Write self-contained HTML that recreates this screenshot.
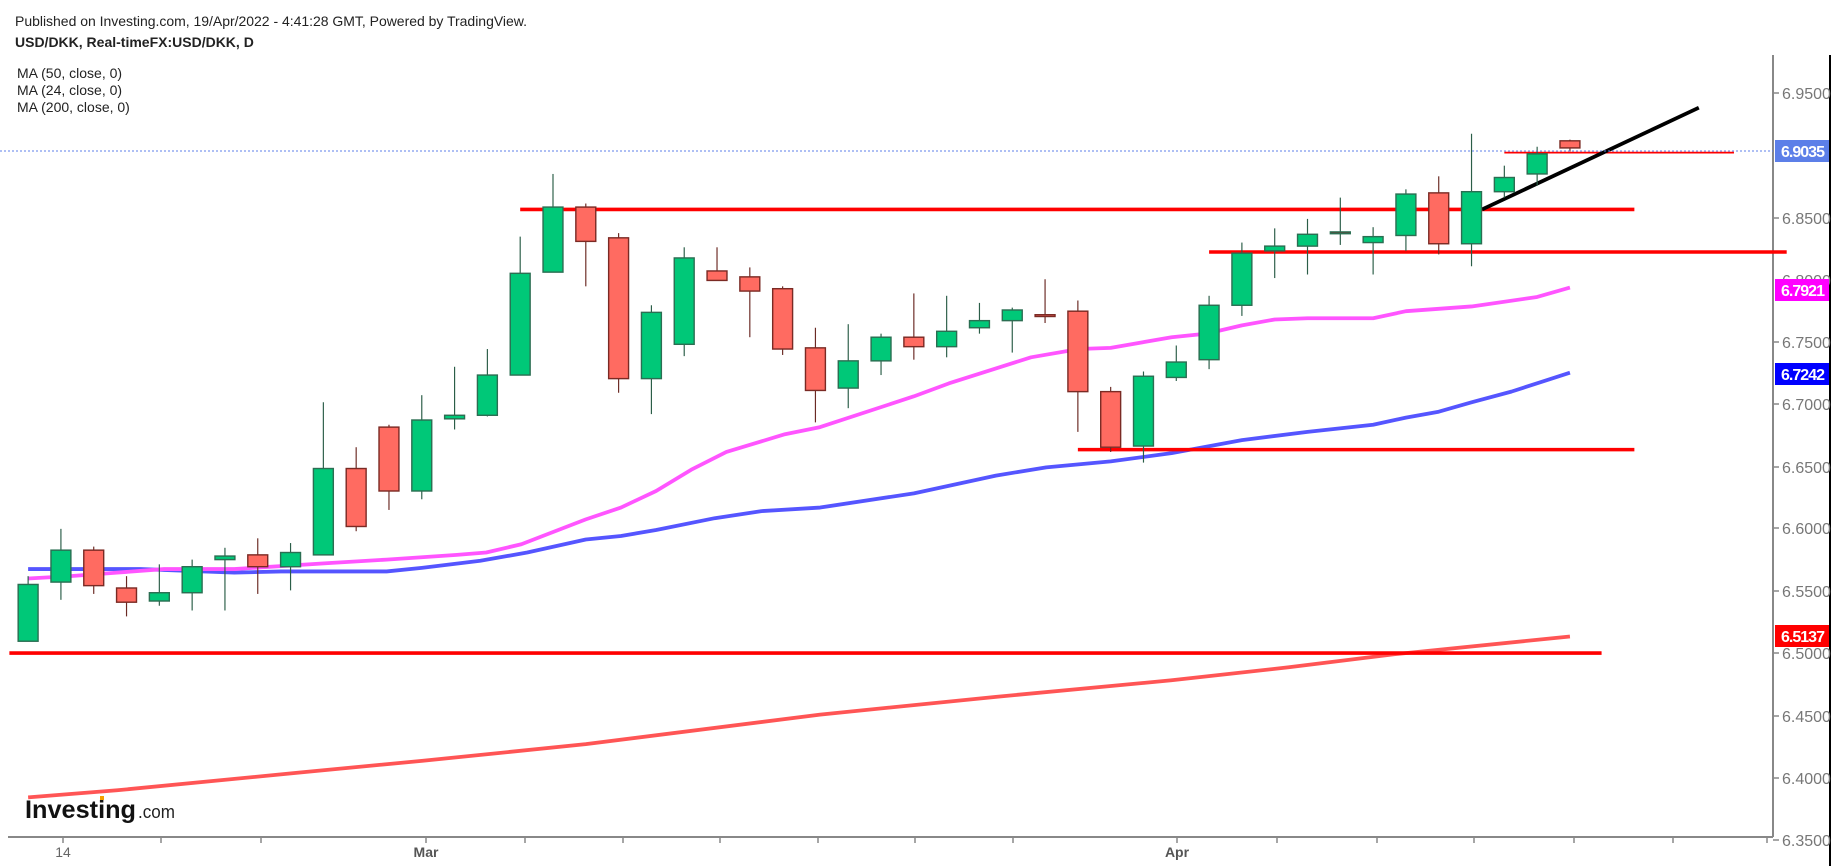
<!DOCTYPE html>
<html><head><meta charset="utf-8"><style>
html,body{margin:0;padding:0;background:#fff;}
svg{display:block;font-family:"Liberation Sans",Arial,sans-serif;}
</style></head><body>
<svg id="s" width="1837" height="866" viewBox="0 0 1837 866" xmlns="http://www.w3.org/2000/svg">
<rect width="1837" height="866" fill="#fff"/>
<text x="15" y="26" font-size="14" fill="#222" textLength="512">Published on Investing.com, 19/Apr/2022 - 4:41:28 GMT, Powered by TradingView.</text>
<text x="15" y="47" font-size="14" font-weight="bold" fill="#222">USD/DKK, Real-timeFX:USD/DKK, D</text>
<text x="17" y="78" font-size="14" fill="#222">MA (50, close, 0)</text>
<text x="17" y="95" font-size="14" fill="#222">MA (24, close, 0)</text>
<text x="17" y="112" font-size="14" fill="#222">MA (200, close, 0)</text>
<line x1="1773" y1="55" x2="1773" y2="837" stroke="#888" stroke-width="2"/>
<line x1="1830" y1="55" x2="1830" y2="866" stroke="#000" stroke-width="2"/>
<line x1="8" y1="837" x2="1773" y2="837" stroke="#888" stroke-width="2"/>
<g id="ax"></g>
<g id="ch" transform="matrix(1.1716 0 0 1.183 0 -3.5)"></g>
<line x1="0" y1="151" x2="1773" y2="151" stroke="#5c7fe8" stroke-width="1" stroke-dasharray="2,2"/>
<text x="25" y="818" font-size="25" font-weight="bold" fill="#111" textLength="111" lengthAdjust="spacingAndGlyphs">Investing</text>
<text x="138" y="818" font-size="18" fill="#222" textLength="37" lengthAdjust="spacingAndGlyphs">.com</text>
<rect x="100" y="796" width="4" height="4" fill="#f5a000"/>
<g id="lb"></g>
</svg>
<script>
var NS="http://www.w3.org/2000/svg";
function el(p,t,a,txt){var e=document.createElementNS(NS,t);for(var k in a)e.setAttribute(k,a[k]);if(txt)e.textContent=txt;p.appendChild(e);return e;}
var ax=document.getElementById('ax'),ch=document.getElementById('ch'),lb=document.getElementById('lb');
var yt=[[6.95,93],[6.90,156],[6.85,218],[6.80,280],[6.75,342],[6.70,404],[6.65,467],[6.60,528],[6.55,591],[6.50,653],[6.45,716],[6.40,778],[6.35,840]];
yt.forEach(function(t){if(t[0]==6.90||t[0]==6.80)return;el(ax,'line',{x1:1773,y1:t[1],x2:1779,y2:t[1],stroke:'#888','stroke-width':1.5});
el(ax,'text',{x:1782,y:t[1]+6,'font-size':16,fill:'#777'},t[0].toFixed(4));});
el(ax,'text',{x:1782,y:286,'font-size':16,fill:'#777'},'6.8000');
[63,161,261,426,525,623,720,818,915,1013,1177,1277,1377,1474,1574,1673,1767].forEach(function(x){el(ax,'line',{x1:x,y1:837,x2:x,y2:843,stroke:'#888','stroke-width':1.5});});
el(ax,'text',{x:63,y:857,'font-size':14,fill:'#666','text-anchor':'middle'},'14');
el(ax,'text',{x:426,y:857,'font-size':14,'font-weight':'bold',fill:'#555','text-anchor':'middle'},'Mar');
el(ax,'text',{x:1177,y:857,'font-size':14,'font-weight':'bold',fill:'#555','text-anchor':'middle'},'Apr');
function pl(pts,c,w){el(ch,'polyline',{points:pts.map(function(p){return p.join(',')}).join(' '),fill:'none',stroke:c,'stroke-width':w,'stroke-linejoin':'round'});}
pl([[24,677],[100,671],[256,656],[361,646],[500,632],[700,607],[850,592],[1000,578],[1100,567],[1190,556],[1340,541]],'#ff5555',3.2);
pl([[24,484],[120,484],[200,487],[240,486],[330,486],[360,483],[410,477],[450,470],[500,459],[530,456],[560,451],[610,441],[650,435],[700,432],[780,420],[850,405],[893,398],[948,393],[1000,386],[1060,375],[1116,368],[1172,362],[1200,356],[1228,351],[1256,343],[1290,334],[1340,318]],'#5555ff',3.2);
pl([[24,492],[60,490],[100,487],[140,484],[200,484],[280,479],[330,476],[390,472],[415,470],[445,463],[500,442],[530,432],[560,418],[590,400],[620,385],[670,370],[700,364],[780,338],[810,327],[880,305],[921,298],[948,297],[1000,288],[1030,285],[1060,278],[1088,273],[1116,272],[1172,272],[1200,266],[1256,262],[1312,254],[1340,246]],'#ff55ff',3.2);
[[444,1395,180,3],[1032,1525,216,3],[920,1395,383,3],[8,1367,555,3],[1284,1480,132,1.5]].forEach(function(l){el(ch,'line',{x1:l[0],x2:l[1],y1:l[2],y2:l[2],stroke:'#ff0000','stroke-width':l[3]});});
el(ch,'line',{x1:1265,y1:180,x2:1450,y2:94,stroke:'#000','stroke-width':3.2});
var C=[[545,497,490,545],[495,468,450,510],[468,498,465,505],[500,512,490,524],[511,504,480,515],[504,482,476,519],[476,473,466,519],[472,482,458,505],[482,470,462,502],[472,399,343,472],[399,448,381,452],[364,418,362,434],[418,358,337,425],[357,354,313,366],[354,320,298,355],[320,234,203,320],[233,178,150,233],[178,207,175,245],[204,323,200,335],[323,267,261,353],[294,221,212,304],[232,240,212,240],[237,249,229,288],[247,298,245,303],[297,333,280,360],[331,308,277,348],[308,288,285,320],[288,296,251,307],[296,283,253,305],[280,274,259,285],[274,265,263,301],[269,270,239,276],[266,334,257,368],[334,381,330,385],[380,321,317,394],[322,309,295,325],[307,261,253,315],[261,217,208,270],[215,211,196,238],[211,201,188,235],[199,199,170,210],[208,203,195,235],[202,167,163,215],[166,209,152,218],[209,165,116,228],[165,153,143,170],[150,133,127,160],[122,128,121,131]];
C.forEach(function(c,i){var x=24+28*i,up=c[1]<=c[0],dj=c[0]==c[1];
var fill=up?'#00c878':'#ff6b61',st=up?'#2b6e52':'#7a2a24';
if(dj){fill='#7a2a24';}
el(ch,'line',{x1:x,x2:x,y1:c[2],y2:c[3],stroke:up?'#2b5e48':'#6b2a24','stroke-width':1});
var t=Math.min(c[0],c[1]),h=Math.max(Math.abs(c[0]-c[1]),1.5);
el(ch,'rect',{x:x-8.5,y:t,width:17,height:h,fill:fill,stroke:st,'stroke-width':1.2});});
function tag(y,bg,txt){el(lb,'rect',{x:1775,y:y-11,width:54,height:22,fill:bg});el(lb,'text',{x:1781,y:y+6,'font-size':16,'font-weight':'bold',fill:'#fff',textLength:44},txt);}
tag(151,'#5c7fe8','6.9035');tag(290,'#ff00ff','6.7921');tag(374,'#0000ff','6.7242');tag(636,'#ff0000','6.5137');
</script>
</body></html>
